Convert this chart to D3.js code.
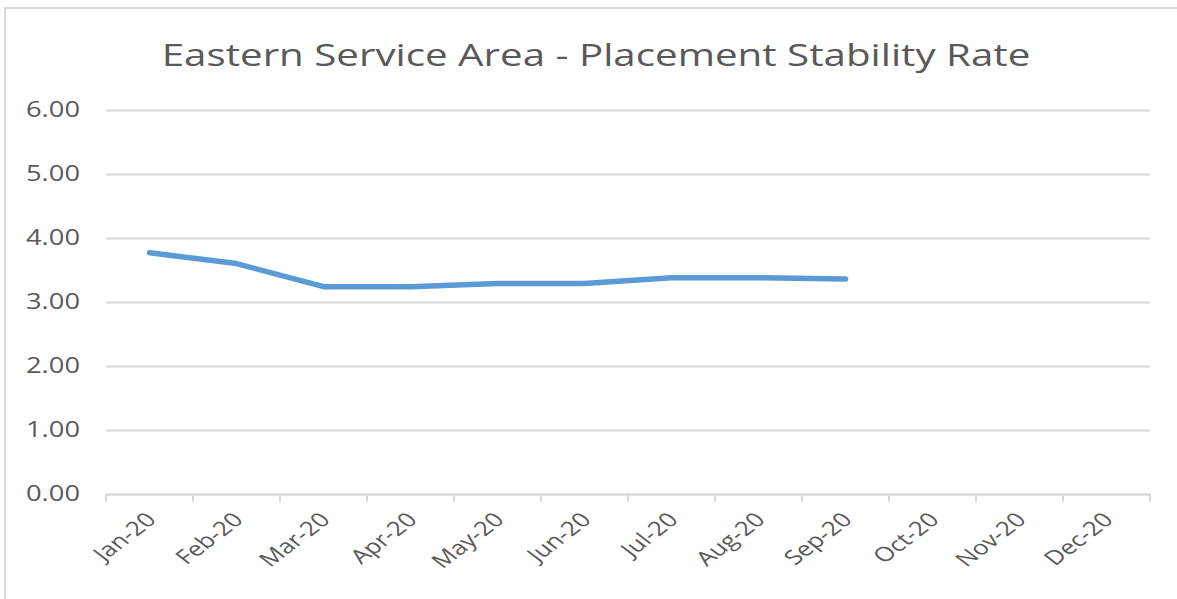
<!DOCTYPE html>
<html>
<head>
<meta charset="utf-8">
<script src="https://cdn.jsdelivr.net/npm/d3@7"></script>
<style>
  html, body { margin: 0; padding: 0; background: #fff; }
  svg { display: block; }
</style>
</head>
<body>
<svg id="chart" width="1177" height="599"></svg>
<script>
const title = "Eastern Service Area - Placement Stability Rate";
const months = ["Jan-20","Feb-20","Mar-20","Apr-20","May-20","Jun-20","Jul-20","Aug-20","Sep-20","Oct-20","Nov-20","Dec-20"];
const rates = [3.77, 3.60, 3.24, 3.24, 3.29, 3.29, 3.38, 3.38, 3.36, null, null, null];
const yTicks = [0, 1, 2, 3, 4, 5, 6];

const W = 1177, H = 599;
const SX = 1.3; // horizontal stretch of the text in the reference
const FONT = "'Open Sans', sans-serif";
const margin = { left: 106, right: 27, top: 110, bottom: 105 };
const svg = d3.select("#chart");

// outer frame
svg.append("rect")
  .attr("x", 5).attr("y", 8)
  .attr("width", W + 10).attr("height", H + 10)
  .attr("fill", "#fff").attr("stroke", "#d9d9d9").attr("stroke-width", 2);

const x = d3.scaleBand().domain(months).range([margin.left, W - margin.right]);
const y = d3.scaleLinear().domain([0, 6]).range([H - margin.bottom, margin.top]);

// title
svg.append("text")
  .attr("transform", `translate(596,66) scale(${SX},1)`)
  .attr("text-anchor", "middle")
  .attr("font-family", FONT)
  .attr("font-size", 31)
  .attr("fill", "#595959")
  .text(title);

// gridlines
const yAxis = d3.axisLeft(y).tickValues(yTicks)
  .tickSize(-(W - margin.left - margin.right))
  .tickFormat(d3.format(".2f"));
const gy = svg.append("g").attr("transform", `translate(${margin.left},0)`).call(yAxis);
gy.select(".domain").remove();
gy.selectAll(".tick line").attr("stroke", "#d9d9d9").attr("stroke-width", 2);
gy.selectAll(".tick text")
  .attr("x", 0)
  .attr("transform", `translate(-26,0) scale(${SX},1)`)
  .attr("font-family", FONT)
  .attr("font-size", 21)
  .attr("fill", "#595959");

// x axis
const xAxis = d3.axisBottom(x).tickSizeOuter(0).tickSize(0);
const gx = svg.append("g").attr("transform", `translate(0,${y(0)})`).call(xAxis);
gx.select(".domain").attr("stroke", "#d9d9d9").attr("stroke-width", 2);
gx.selectAll(".tick line").remove();
// boundary ticks between categories
const bounds = months.map(m => x(m)).concat([x(months[months.length - 1]) + x.bandwidth()]);
gx.selectAll(".bound").data(bounds).enter().append("line")
  .attr("class", "bound")
  .attr("x1", d => d).attr("x2", d => d)
  .attr("y1", 0).attr("y2", 8)
  .attr("stroke", "#d9d9d9").attr("stroke-width", 2);
gx.selectAll(".tick text")
  .attr("font-family", FONT)
  .attr("font-size", 20)
  .attr("fill", "#595959")
  .attr("text-anchor", "end")
  .attr("y", 0)
  .attr("dy", 0)
  .attr("transform", `translate(8,27) scale(${SX},1) rotate(-45)`);

// line
const line = d3.line()
  .defined(d => d.v != null)
  .x(d => x(d.m) + x.bandwidth() / 2)
  .y(d => y(d.v));
svg.append("path")
  .datum(months.map((m, i) => ({ m, v: rates[i] })))
  .attr("d", line)
  .attr("fill", "none")
  .attr("stroke", "#5b9bd5")
  .attr("stroke-width", 5.5)
  .attr("stroke-linecap", "round")
  .attr("stroke-linejoin", "round");
</script>
</body>
</html>
